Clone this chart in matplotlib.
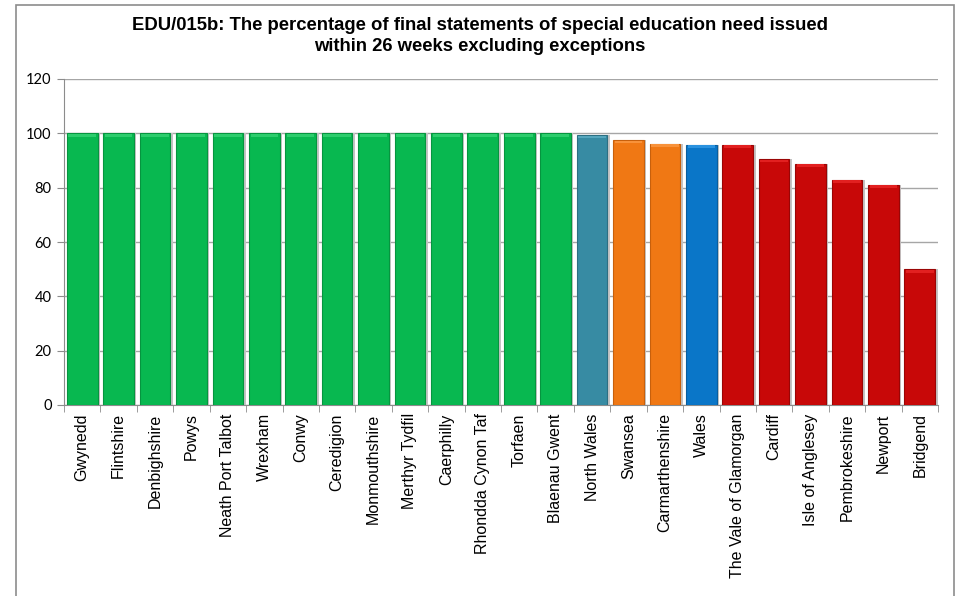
import matplotlib.pyplot as plt
import numpy as np
from matplotlib.patches import Rectangle

areas = ['Gwynedd', 'Flintshire', 'Denbighshire', 'Powys', 'Neath Port Talbot',
         'Wrexham', 'Conwy', 'Ceredigion', 'Monmouthshire', 'Merthyr Tydfil',
         'Caerphilly', 'Rhondda Cynon Taf', 'Torfaen', 'Blaenau Gwent',
         'North Wales', 'Swansea', 'Carmarthenshire', 'Wales',
         'The Vale of Glamorgan', 'Cardiff', 'Isle of Anglesey',
         'Pembrokeshire', 'Newport', 'Bridgend']
pct = [100, 100, 100, 100, 100, 100, 100, 100, 100, 100, 100, 100, 100, 100,
       99.3, 97.5, 96.2, 95.8, 95.8, 90.5, 88.8, 83.0, 81.1, 49.9]
group = ['green'] * 14 + ['region', 'amber', 'amber', 'wales'] + ['red'] * 6

fills = {'green': '#08b850', 'region': '#378ba3', 'amber': '#f07814',
         'wales': '#0a76c8', 'red': '#c80808'}
edges = {'green': '#06953f', 'region': '#2c6f82', 'amber': '#c8600c',
         'wales': '#085e9f', 'red': '#9a0505'}
tops = {'green': '#2ccd6c', 'region': '#55a6bd', 'amber': '#f8923a',
        'wales': '#2a92df', 'red': '#e22020'}

plt.rcParams['font.family'] = 'Liberation Sans'

fig = plt.figure(figsize=(9.59, 5.96), dpi=100)
fig.patches.append(Rectangle((16 / 959, -0.05), 938 / 959, 1 - 5 / 596 + 0.05,
                             transform=fig.transFigure, fill=False,
                             edgecolor='#8c8c8c', linewidth=1.2))
ax = fig.add_axes([64 / 959, 191 / 596, 874 / 959, 326 / 596])

x = np.arange(len(areas))
w = 0.84
cols = [fills[g] for g in group]
ecols = [edges[g] for g in group]

# soft shadow to the right of each bar
ax.bar(x + 0.07, pct, width=w, color='#c4c4c4', zorder=2, linewidth=0)
ax.bar(x, pct, width=w, color=cols, edgecolor=ecols, linewidth=0.8, zorder=3)
# bevel highlight along the top of each bar
ax.bar(x, [1.0] * len(x), bottom=np.array(pct) - 1.2, width=w * 0.9,
       color=[tops[g] for g in group], linewidth=0, zorder=4)

ax.set_xlim(-0.5, len(areas) - 0.5)
ax.set_ylim(0, 120)
ax.set_yticks(np.arange(0, 121, 20))
ax.yaxis.grid(True, color='#a6a6a6', linewidth=1.0, zorder=0)
ax.set_axisbelow(True)

ax.set_xticks(x)
ax.set_xticklabels(areas, rotation=90, fontsize=11.5)
ax.set_xticks(np.arange(-0.5, len(areas), 1), minor=True)
ax.tick_params(axis='x', which='major', length=0, pad=6)
ax.tick_params(axis='x', which='minor', length=5, color='#8c8c8c')
ax.tick_params(axis='y', length=5, color='#8c8c8c', labelsize=10.5, pad=4)
for lab in ax.get_yticklabels():
    lab.set_family('Lato')

for side in ['top', 'right']:
    ax.spines[side].set_visible(False)
for side in ['left', 'bottom']:
    ax.spines[side].set_color('#8c8c8c')

fig.text(0.5, 0.971, 'EDU/015b: The percentage of final statements of special education need issued\n'
         'within 26 weeks excluding exceptions', ha='center', va='top',
         fontsize=13.3, fontweight='bold', linespacing=1.25)

plt.savefig('out.png', dpi=100)
